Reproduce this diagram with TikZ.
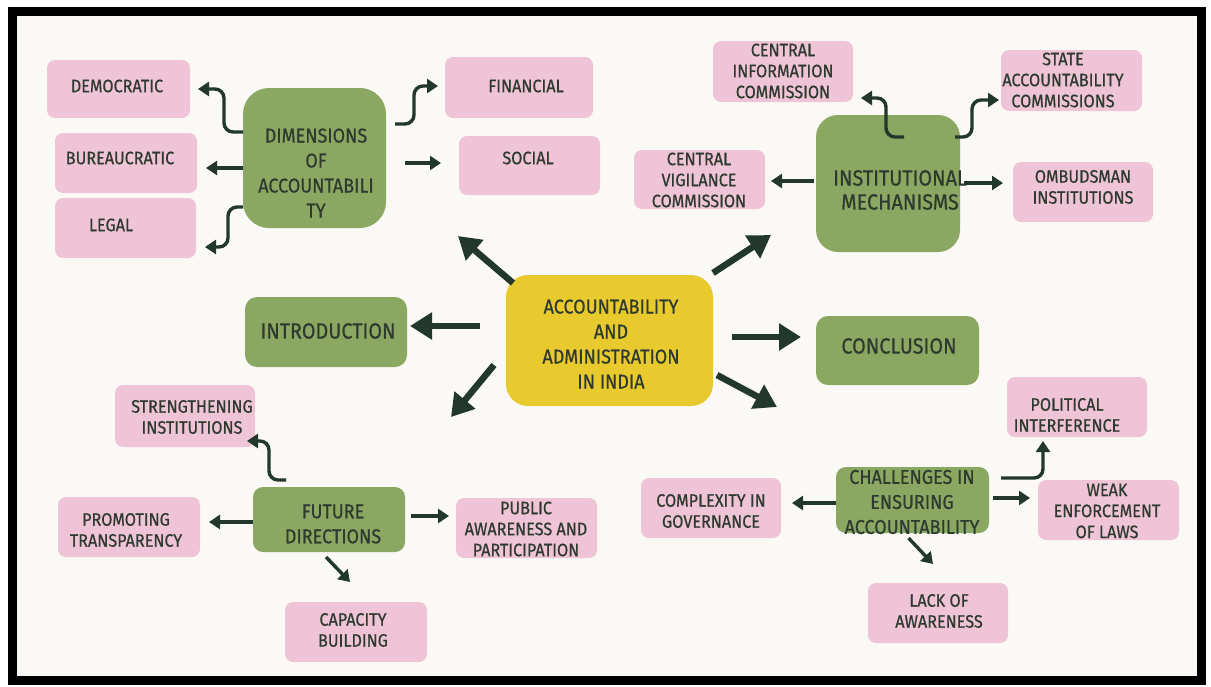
\documentclass[tikz,border=0pt]{standalone}
\usepackage{fontspec}
\setmainfont{Fira Sans}[FakeStretch=0.9,FakeBold=0.6]
\usetikzlibrary{arrows.meta,calc}
\definecolor{paper}{HTML}{FBF9F5}
\definecolor{leaf}{HTML}{8BA862}
\definecolor{blush}{HTML}{EFC4D6}
\definecolor{mustard}{HTML}{E8CA2F}
\definecolor{ink}{HTML}{2E3A2F}
\definecolor{arrowc}{HTML}{23382C}
% box from its corners: [style]{name}{x1}{y1}{x2}{y2}
\newcommand\mkbox[6][]{\node[#1, minimum width={#5-#3}, minimum height={#6-#4}] (#2) at ({(#3+#5)/2},{(#4+#6)/2}) {};}
\begin{document}
\begin{tikzpicture}[x=1pt,y=-1pt,
  shp/.style={rectangle, draw=none, inner sep=0pt, outer sep=0pt},
  pinkbox/.style={shp, fill=blush, rounded corners=8pt},
  greenbox/.style={shp, fill=leaf, rounded corners=14pt},
  hubbox/.style={shp, fill=mustard, rounded corners=22pt},
  txt/.style={text=ink, align=center, inner sep=0pt},
  ptxt/.style={txt, font=\fontsize{18}{21}\selectfont},
  gtxt/.style={txt, font=\fontsize{20}{25}\selectfont},
  btxt/.style={txt, font=\fontsize{22}{24}\selectfont},
  htxt/.style={txt, font=\fontsize{20}{25}\selectfont},
  thinarr/.style={draw=arrowc, line width=3.4pt, rounded corners=9pt,
    -{Triangle[width=14pt,length=11pt]}},
  thickarr/.style={draw=arrowc, line width=6.5pt,
    -{Triangle[width=26pt,length=22pt]}}]
\useasboundingbox (0,0) rectangle (1211,686);
\fill[white] (0,0) rectangle (1211,686);
\fill[paper] (12,11) rectangle (1201,680);
\draw[line width=9pt] (12.5,11.5) rectangle (1201,680.5);

% central topic
\mkbox[hubbox]{hub}{506}{275}{713}{406}
\node[htxt] (hub-t) at (611,344) {ACCOUNTABILITY\\AND\\ADMINISTRATION\\IN INDIA};

% main branches
\mkbox[greenbox, rounded corners=26pt]{dim}{243}{88}{386}{228}
\node[gtxt] (dim-t) at (316,173) {DIMENSIONS\\OF\\ACCOUNTABILI\\TY};
\mkbox[greenbox, rounded corners=22pt]{inst}{816}{115}{960}{252}
\node[btxt] (inst-t) at (900,190) {INSTITUTIONAL\\MECHANISMS};
\mkbox[greenbox, rounded corners=12pt]{intro}{245}{297}{407}{367}
\node[btxt] (intro-t) at (328,331) {INTRODUCTION};
\mkbox[greenbox, rounded corners=12pt]{concl}{816}{316}{979}{385}
\node[btxt] (concl-t) at (899,346) {CONCLUSION};
\mkbox[greenbox, rounded corners=10pt]{fut}{253}{487}{405}{552}
\node[gtxt] (fut-t) at (333,524) {FUTURE\\DIRECTIONS};
\mkbox[greenbox, rounded corners=10pt]{chal}{836}{467}{989}{533}
\node[gtxt] (chal-t) at (912,502) {CHALLENGES IN\\ENSURING\\ACCOUNTABILITY};

% dimensions
\mkbox[pinkbox]{demo}{47}{60}{190}{118}
\node[ptxt] (demo-t) at (117,86) {DEMOCRATIC};
\mkbox[pinkbox]{bur}{55}{133}{197}{193}
\node[ptxt] (bur-t) at (120,158) {BUREAUCRATIC};
\mkbox[pinkbox]{legal}{55}{198}{196}{258}
\node[ptxt] (legal-t) at (111,225) {LEGAL};
\mkbox[pinkbox]{fin}{445}{57}{593}{118}
\node[ptxt] (fin-t) at (526,86) {FINANCIAL};
\mkbox[pinkbox]{soc}{459}{136}{600}{195}
\node[ptxt] (soc-t) at (528,158) {SOCIAL};

% institutions
\mkbox[pinkbox]{cic}{713}{41}{853}{102}
\node[ptxt] (cic-t) at (783,71) {CENTRAL\\INFORMATION\\COMMISSION};
\mkbox[pinkbox]{sac}{1001}{50}{1142}{111}
\node[ptxt] (sac-t) at (1063,80) {STATE\\ACCOUNTABILITY\\COMMISSIONS};
\mkbox[pinkbox]{cvc}{634}{150}{765}{209}
\node[ptxt] (cvc-t) at (699,180) {CENTRAL\\VIGILANCE\\COMMISSION};
\mkbox[pinkbox]{omb}{1013}{162}{1153}{222}
\node[ptxt] (omb-t) at (1083,187) {OMBUDSMAN\\INSTITUTIONS};

% future directions
\mkbox[pinkbox]{str}{115}{385}{255}{447}
\node[ptxt] (str-t) at (192,417) {STRENGTHENING\\INSTITUTIONS};
\mkbox[pinkbox]{prom}{58}{497}{200}{557}
\node[ptxt] (prom-t) at (126,530) {PROMOTING\\TRANSPARENCY};
\mkbox[pinkbox]{pub}{456}{498}{597}{558}
\node[ptxt] (pub-t) at (526,529) {PUBLIC\\AWARENESS AND\\PARTICIPATION};
\mkbox[pinkbox]{cap}{285}{602}{427}{662}
\node[ptxt] (cap-t) at (353,630) {CAPACITY\\BUILDING};

% challenges
\mkbox[pinkbox]{pol}{1007}{377}{1147}{437}
\node[ptxt] (pol-t) at (1067,415) {POLITICAL\\INTERFERENCE};
\mkbox[pinkbox]{comp}{641}{478}{781}{538}
\node[ptxt] (comp-t) at (711,511) {COMPLEXITY IN\\GOVERNANCE};
\mkbox[pinkbox]{weak}{1038}{480}{1179}{540}
\node[ptxt] (weak-t) at (1107,511) {WEAK\\ENFORCEMENT\\OF LAWS};
\mkbox[pinkbox]{lack}{868}{583}{1008}{643}
\node[ptxt] (lack-t) at (939,611) {LACK OF\\AWARENESS};

% free ends of the hub arrows
\coordinate (tipUL) at (458,236);
\coordinate (tipLL) at (451,417);
\coordinate (tipUR) at (771,235);
\coordinate (tipLR) at (777,407);

% hub arrows
\draw[thickarr] ([shift={(7,8)}]hub.north west) -- (tipUL);
\draw[thickarr] ([xshift=-26]hub.west |- 0,326) -- ([xshift=3]intro.east |- 0,326);
\draw[thickarr] ([xshift=-12]hub.west |- 0,365) -- (tipLL);
\draw[thickarr] ([yshift=2]hub.north east) -- (tipUR);
\draw[thickarr] ([xshift=19]hub.east |- 0,337) -- ([xshift=-15]concl.west |- 0,337);
\draw[thickarr] ([xshift=4]hub.east |- 0,375) -- (tipLR);

% dimensions arrows
\draw[thinarr] (dim.west |- 0,132) -- (224,132) -- (224,89) -- ([xshift=8]demo.east |- 0,89);
\draw[thinarr] (dim.west |- 0,168) -- ([xshift=9]bur.east |- 0,168);
\draw[thinarr] (dim.west |- 0,207) -- (228,207) -- (228,247) -- ([xshift=9]legal.east |- 0,247);
\draw[thinarr] ([xshift=9]dim.east |- 0,124) -- (414,124) -- (414,86) -- ([xshift=-7]fin.west |- 0,86);
\draw[thinarr] ([xshift=19]dim.east |- 0,163) -- ([xshift=-18]soc.west |- 0,163);

% institution arrows
\draw[thinarr] ([shift={(16,22)}]inst.north) -- (886,137) -- (886,98) -- ([xshift=8]cic.east |- 0,98);
\draw[thinarr] ([shift={(67,22)}]inst.north) -- (972,137) -- (972,100) -- ([xshift=-2]sac.west |- 0,100);
\draw[thinarr] ([xshift=-2]inst.west |- 0,181) -- ([xshift=6]cvc.east |- 0,181);
\draw[thinarr] ([xshift=4]inst.east |- 0,183) -- ([xshift=-10]omb.west |- 0,183);

% future direction arrows
\draw[thinarr] ([shift={(-43,-7)}]fut.north) -- (269,480) -- (269,441) -- ([xshift=-8]str.east |- 0,441);
\draw[thinarr] (fut.west |- 0,522) -- ([xshift=9]prom.east |- 0,522);
\draw[thinarr] ([xshift=6]fut.east |- 0,516) -- ([xshift=-7]pub.west |- 0,516);
\draw[thinarr] ([shift={(-3,5)}]fut.south) -- ([shift={(-6,-20)}]cap.north);

% challenge arrows
\draw[thinarr] ([xshift=12]chal.east |- 0,478) -- (1043,478) -- ([xshift=-34]pol.south |- 0,441);
\draw[thinarr] (chal.west |- 0,503) -- ([xshift=11]comp.east |- 0,503);
\draw[thinarr] ([xshift=4]chal.east |- 0,498) -- ([xshift=-8]weak.west |- 0,498);
\draw[thinarr] ([shift={(-4,5)}]chal.south) -- ([shift={(-5,-19)}]lack.north);
\end{tikzpicture}
\end{document}
